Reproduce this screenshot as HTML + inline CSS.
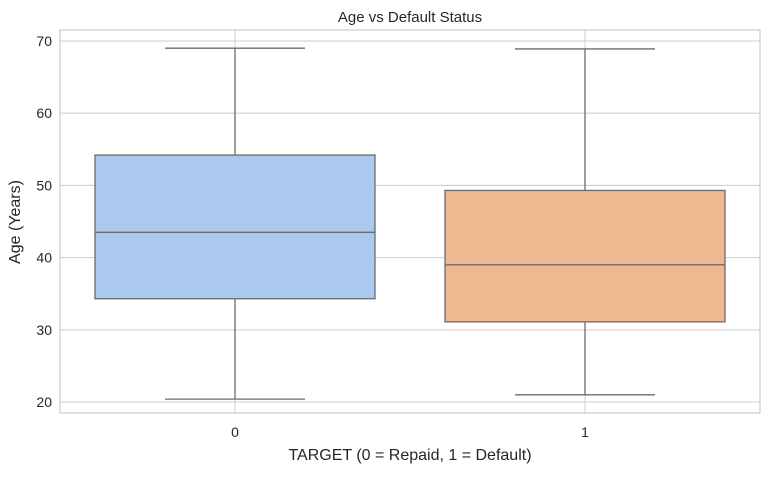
<!DOCTYPE html>
<html><head><meta charset="utf-8"><style>
body{margin:0;background:#fff;}
svg text{font-family:"Liberation Sans",sans-serif;fill:#262626;}
</style></head><body>
<svg id="chart" width="768" height="473" viewBox="0 0 768 473"></svg>
<script>
const categories = ["0", "1"];
const whiskerLow = [20.4, 21.0];
const q1Values = [34.3, 31.1];
const medianValues = [43.5, 39.0];
const q3Values = [54.2, 49.3];
const whiskerHigh = [69.0, 68.9];
const yTicks = [20, 30, 40, 50, 60, 70];
const boxColors = ["#abc9ee", "#f0b891"];

const NS = "http://www.w3.org/2000/svg";
const svg = document.getElementById("chart");
const L = 60, R = 760, T = 30, B = 413;
const yMin = 18.48, yMax = 71.52;
const y = v => B - (v - yMin) / (yMax - yMin) * (B - T);
const band = (R - L) / categories.length;
const x = i => L + band * (i + 0.5);
function mk(tag, attrs, parent) {
  const e = document.createElementNS(NS, tag);
  for (const k in attrs) e.setAttribute(k, attrs[k]);
  (parent || svg).appendChild(e);
  return e;
}
yTicks.forEach(t => {
  const g = mk("line", {x1: L, x2: R, y1: y(t), y2: y(t), stroke: "#cccccc", "stroke-width": 1});
  
  
  const tx = mk("text", {x: L - 8, y: y(t) + 5, "text-anchor": "end", "font-size": 14});
  tx.textContent = t;
  
  
});
categories.forEach((c, i) => {
  const g = mk("line", {x1: x(i), x2: x(i), y1: T, y2: B, stroke: "#cccccc", "stroke-width": 1});
  
  
});
const frame = mk("rect", {x: L, y: T, width: R - L, height: B - T, fill: "none", stroke: "#cccccc", "stroke-width": 1.2});


const bw = band * 0.8;
const lc = "#6b6b6b";
categories.forEach((c, i) => {
  const grp = mk("g", {});
  
  
  const cx = x(i);
  mk("line", {x1: cx, x2: cx, y1: y(q3Values[i]), y2: y(whiskerHigh[i]), stroke: lc, "stroke-width": 1.3}, grp);
  mk("line", {x1: cx, x2: cx, y1: y(q1Values[i]), y2: y(whiskerLow[i]), stroke: lc, "stroke-width": 1.3}, grp);
  mk("line", {x1: cx - bw / 4, x2: cx + bw / 4, y1: y(whiskerHigh[i]), y2: y(whiskerHigh[i]), stroke: lc, "stroke-width": 1.3}, grp);
  mk("line", {x1: cx - bw / 4, x2: cx + bw / 4, y1: y(whiskerLow[i]), y2: y(whiskerLow[i]), stroke: lc, "stroke-width": 1.3}, grp);
  mk("rect", {x: cx - bw / 2, y: y(q3Values[i]), width: bw, height: y(q1Values[i]) - y(q3Values[i]), fill: boxColors[i], stroke: lc, "stroke-width": 1.3}, grp);
  mk("line", {x1: cx - bw / 2, x2: cx + bw / 2, y1: y(medianValues[i]), y2: y(medianValues[i]), stroke: lc, "stroke-width": 1.3}, grp);
  const tx = mk("text", {x: cx, y: B + 24, "text-anchor": "middle", "font-size": 14});
  tx.textContent = c;
  
  
});
</script>
<div style="position:absolute;left:0;top:0;width:768px;height:473px;pointer-events:none">
<svg width="768" height="473" style="position:absolute;left:0;top:0">
<text x="410" y="22" text-anchor="middle" font-size="15">Age vs Default Status</text>
<text x="410" y="460" text-anchor="middle" font-size="16">TARGET (0 = Repaid, 1 = Default)</text>
<text x="20" y="222" text-anchor="middle" font-size="16" transform="rotate(-90 20 222)">Age (Years)</text>
</svg></div>
</body></html>
